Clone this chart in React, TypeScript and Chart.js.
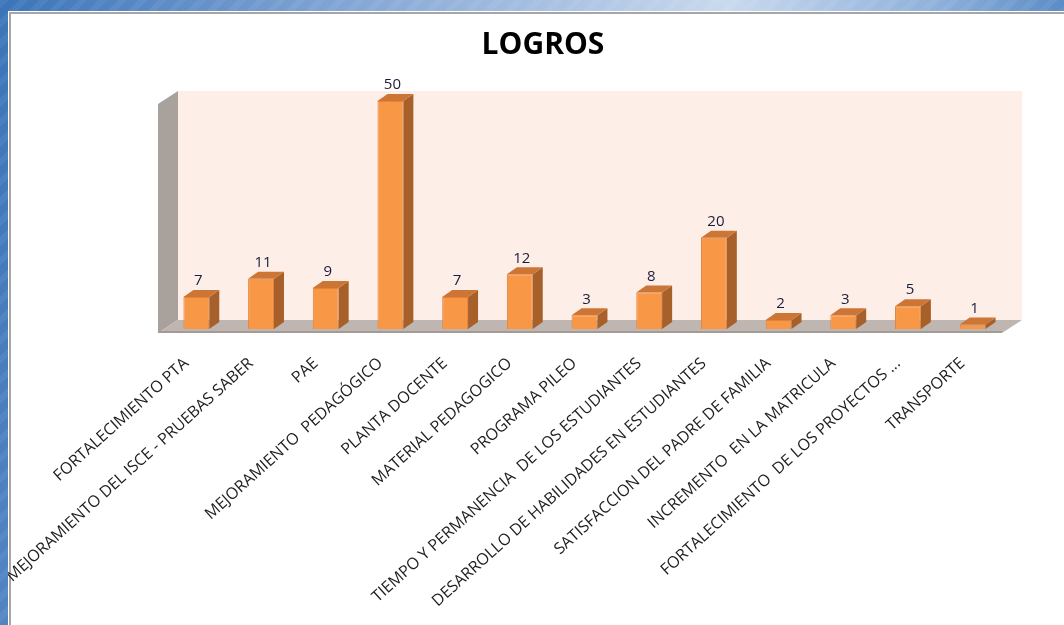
import React, { useEffect, useRef } from "react";
import { Chart, registerables } from "chart.js";

Chart.register(...registerables);

const chartTitle = "LOGROS";

const categories = [
  "FORTALECIMIENTO PTA",
  "MEJORAMIENTO DEL ISCE - PRUEBAS SABER",
  "PAE",
  "MEJORAMIENTO  PEDAGÓGICO",
  "PLANTA DOCENTE",
  "MATERIAL PEDAGOGICO",
  "PROGRAMA PILEO",
  "TIEMPO Y PERMANENCIA  DE LOS ESTUDIANTES",
  "DESARROLLO DE HABILIDADES EN ESTUDIANTES",
  "SATISFACCION DEL PADRE DE FAMILIA",
  "INCREMENTO  EN LA MATRICULA",
  "FORTALECIMIENTO  DE LOS PROYECTOS ...",
  "TRANSPORTE",
];

const values = [7, 11, 9, 50, 7, 12, 3, 8, 20, 2, 3, 5, 1];

const yMin = 0;
const yMax = 50;

const DEPTH_X = 10;
const DEPTH_Y = -7;

const threeDPlugin = {
  id: "threeD",
  beforeDatasetsDraw(chart: any) {
    const { ctx, chartArea } = chart;
    const L = chartArea.left;
    const R = chartArea.right;
    const T = chartArea.top;
    const B = chartArea.bottom;
    ctx.save();
    // back wall
    ctx.fillStyle = "#FDEEE7";
    ctx.fillRect(L + 14, T - 10, R - L + 3, B - 9 - (T - 10));
    // side wall
    ctx.fillStyle = "#A9A19C";
    ctx.beginPath();
    ctx.moveTo(L - 6, B + 4);
    ctx.lineTo(L + 14, B - 9);
    ctx.lineTo(L + 14, T - 10);
    ctx.lineTo(L - 6, T + 3);
    ctx.closePath();
    ctx.fill();
    // floor
    ctx.fillStyle = "#BFB6B1";
    ctx.beginPath();
    ctx.moveTo(L - 6, B + 4);
    ctx.lineTo(L + 14, B - 9);
    ctx.lineTo(R + 17, B - 9);
    ctx.lineTo(R - 3, B + 4);
    ctx.closePath();
    ctx.fill();
    // floor front edge
    ctx.fillStyle = "#A39B96";
    ctx.fillRect(L - 6, B + 2, R - L + 3, 2);
    ctx.restore();
  },
  afterDatasetsDraw(chart: any) {
    const { ctx } = chart;
    const meta = chart.getDatasetMeta(0);
    ctx.save();
    meta.data.forEach((bar: any, i: number) => {
      const p = bar.getProps(["x", "y", "base", "width"], true);
      const left = p.x - p.width / 2;
      const right = p.x + p.width / 2;
      const top = Math.min(p.y, p.base);
      const bottom = Math.max(p.y, p.base);
      // side face
      ctx.fillStyle = "#A8602B";
      ctx.beginPath();
      ctx.moveTo(right, top);
      ctx.lineTo(right + DEPTH_X, top + DEPTH_Y);
      ctx.lineTo(right + DEPTH_X, bottom + DEPTH_Y);
      ctx.lineTo(right, bottom);
      ctx.closePath();
      ctx.fill();
      // top face
      ctx.fillStyle = "#CD7535";
      ctx.beginPath();
      ctx.moveTo(left, top);
      ctx.lineTo(left + DEPTH_X, top + DEPTH_Y);
      ctx.lineTo(right + DEPTH_X, top + DEPTH_Y);
      ctx.lineTo(right, top);
      ctx.closePath();
      ctx.fill();
      // value label
      ctx.fillStyle = "#1C1C3A";
      ctx.font = "15px 'Open Sans'";
      ctx.textAlign = "center";
      ctx.textBaseline = "middle";
      ctx.fillText(String(values[i]), p.x + 2, top + DEPTH_Y - 9);
    });
    ctx.restore();
  },
};

export default function App() {
  const canvasRef = useRef<HTMLCanvasElement | null>(null);

  useEffect(() => {
    if (!canvasRef.current) return;
    const chart = new Chart(canvasRef.current, {
      type: "bar",
      data: {
        labels: categories,
        datasets: [
          {
            data: values,
            backgroundColor: "#F89847",
            borderColor: "#E4823A",
            borderWidth: 1,
            barPercentage: 0.4,
            categoryPercentage: 1,
          },
        ],
      },
      options: {
        responsive: false,
        animation: false,
        devicePixelRatio: 1,
        layout: { padding: { left: 22, right: 0, top: 0, bottom: 0 } },
        plugins: {
          legend: { display: false },
          tooltip: { enabled: false },
          title: {
            display: true,
            text: chartTitle,
            color: "#000000",
            font: { family: "'Open Sans'", size: 30, weight: "bold" },
            padding: { top: 27, bottom: 38 },
          },
        },
        scales: {
          y: {
            display: true,
            position: "left",
            min: yMin,
            max: yMax,
            grid: { display: false, drawTicks: false },
            border: { display: false },
            ticks: { display: false },
            afterFit(scale: any) {
              scale.width = 142;
            },
          },
          y2: {
            type: "linear",
            display: true,
            position: "right",
            grid: { display: false, drawTicks: false },
            border: { display: false },
            ticks: { display: false },
            afterFit(scale: any) {
              scale.width = 59;
            },
          },
          x: {
            grid: { display: false, drawTicks: false },
            border: { display: false },
            ticks: {
              autoSkip: false,
              minRotation: 42,
              maxRotation: 42,
              color: "#1E1E1E",
              font: { family: "'Open Sans'", size: 16 },
              padding: 25,
              labelOffset: -10,
            },
            afterFit(scale: any) {
              scale.height = 296;
              scale.paddingLeft = 0;
              scale.paddingRight = 0;
            },
          },
        },
      },
      plugins: [threeDPlugin],
    });
    return () => chart.destroy();
  }, []);

  return (
    <div
      style={{
        position: "fixed",
        left: 0,
        top: 0,
        width: 1064,
        height: 625,
        overflow: "hidden",
        background:
          "repeating-linear-gradient(135deg, rgba(255,255,255,0.06) 0px, rgba(255,255,255,0.06) 6px, rgba(0,0,0,0) 6px, rgba(0,0,0,0) 14px), linear-gradient(100deg, #3a74b9 0%, #7fa3d3 28%, #c9d9ee 62%, #8eb0da 80%, #2f6db4 100%)",
      }}
    >
      <div
        style={{
          position: "absolute",
          left: 8,
          top: 11,
          width: 1056,
          height: 614,
          background: "#ffffff",
          overflow: "hidden",
          boxShadow: "inset 1px 1px 0 #ffffff, inset 3px 3px 0 #a6a6a6",
        }}
      >
        <canvas
          ref={canvasRef}
          width={1064}
          height={625}
          style={{ position: "absolute", left: -8, top: -11, width: 1064, height: 625, display: "block" }}
        />
      </div>
    </div>
  );
}
